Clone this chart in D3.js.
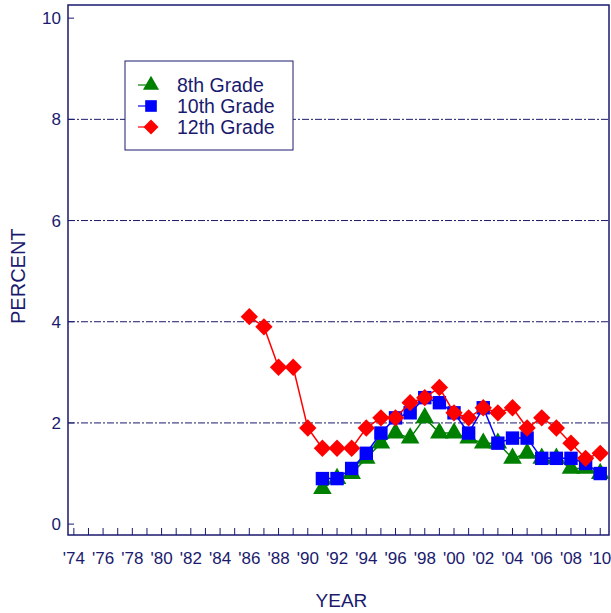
<!DOCTYPE html>
<html>
<head>
<meta charset="utf-8">
<script src="https://cdn.jsdelivr.net/npm/d3@7"></script>
<style>
  body { margin: 0; background: #fff; }
  text { font-family: "Liberation Sans", Arial, sans-serif; fill: #1a1a6e; }
</style>
</head>
<body>
<div id="chart"></div>
<script>
const width = 611;
const height = 613;

// data
const years8 = [1991,1992,1993,1994,1995,1996,1997,1998,1999,2000,2001,2002,2003,2004,2005,2006,2007,2008,2009,2010];
const grade8 = [0.7,0.9,1.0,1.3,1.6,1.8,1.7,2.1,1.8,1.8,1.7,1.6,1.6,1.3,1.4,1.3,1.3,1.1,1.1,1.0];
const years10 = years8;
const grade10 = [0.9,0.9,1.1,1.4,1.8,2.1,2.2,2.5,2.4,2.2,1.8,2.3,1.6,1.7,1.7,1.3,1.3,1.3,1.2,1.0];
const years12 = [1986,1987,1988,1989,1990,1991,1992,1993,1994,1995,1996,1997,1998,1999,2000,2001,2002,2003,2004,2005,2006,2007,2008,2009,2010];
const grade12 = [4.1,3.9,3.1,3.1,1.9,1.5,1.5,1.5,1.9,2.1,2.1,2.4,2.5,2.7,2.2,2.1,2.3,2.2,2.3,1.9,2.1,1.9,1.6,1.3,1.4];
const yTicks = [0, 2, 4, 6, 8, 10];
const gridTicks = [2, 4, 6, 8];
const xLabelYears = d3.range(1974, 2011, 2);

const navy = "#1a1a6e";

const svg = d3.select("#chart")
  .append("svg")
  .attr("width", width)
  .attr("height", height);

const plotLeft = 68, plotRight = 609, plotTop = 5, plotBottom = 535;

const x = d3.scaleLinear().domain([1973.6, 2010.6]).range([plotLeft, plotRight]);
const y = d3.scaleLinear().domain([-0.215, 10.26]).range([plotBottom, plotTop]);

// gridlines
svg.selectAll(".grid")
  .data(gridTicks)
  .enter()
  .append("line")
  .attr("x1", plotLeft).attr("x2", plotRight)
  .attr("y1", d => y(d)).attr("y2", d => y(d))
  .attr("stroke", navy)
  .attr("stroke-width", 1)
  .attr("stroke-dasharray", "7,2,2,2");

// frame
svg.append("rect")
  .attr("x", plotLeft).attr("y", plotTop)
  .attr("width", plotRight - plotLeft).attr("height", plotBottom - plotTop)
  .attr("fill", "none")
  .attr("stroke", navy)
  .attr("stroke-width", 1.5);

// y ticks (inside)
svg.selectAll(".ytick")
  .data(yTicks)
  .enter()
  .append("line")
  .attr("x1", plotLeft).attr("x2", plotLeft + 6)
  .attr("y1", d => y(d)).attr("y2", d => y(d))
  .attr("stroke", navy);

svg.selectAll(".ylab")
  .data(yTicks)
  .enter()
  .append("text")
  .attr("x", plotLeft - 7)
  .attr("y", d => y(d) + 6)
  .attr("text-anchor", "end")
  .style("font-size", "17px")
  .text(d => d);

// x ticks (every year, inside)
svg.selectAll(".xtick")
  .data(d3.range(1974, 2011))
  .enter()
  .append("line")
  .attr("x1", d => x(d)).attr("x2", d => x(d))
  .attr("y1", plotBottom).attr("y2", plotBottom - 7)
  .attr("stroke", navy);

svg.selectAll(".xlab")
  .data(xLabelYears)
  .enter()
  .append("text")
  .attr("x", d => x(d))
  .attr("y", 564)
  .attr("text-anchor", "middle")
  .style("font-size", "17px")
  .text(d => "'" + String(d % 100).padStart(2, "0"));

// axis titles
svg.append("text")
  .attr("x", x(1992.3))
  .attr("y", 607)
  .attr("text-anchor", "middle")
  .style("font-size", "19px")
  .text("YEAR");

svg.append("text")
  .attr("transform", `translate(25, ${y(4.9)}) rotate(-90)`)
  .attr("text-anchor", "middle")
  .style("font-size", "20px")
  .text("PERCENT");

// series
const series = [
  { name: "8th Grade", years: years8, values: grade8, color: "#008000", symbol: d3.symbolTriangle, size: 150, rot: 0 },
  { name: "10th Grade", years: years10, values: grade10, color: "#0000ff", symbol: d3.symbolSquare, size: 180, rot: 0 },
  { name: "12th Grade", years: years12, values: grade12, color: "#ff0000", symbol: d3.symbolSquare, size: 150, rot: 45 }
];

const line = d3.line()
  .x(d => x(d[0]))
  .y(d => y(d[1]));

series.forEach(s => {
  const pts = s.years.map((yr, i) => [yr, s.values[i]]);
  svg.append("path")
    .datum(pts)
    .attr("d", line)
    .attr("fill", "none")
    .attr("stroke", s.color)
    .attr("stroke-width", 1.5);

  svg.selectAll(null)
    .data(pts)
    .enter()
    .append("path")
    .attr("transform", d => `translate(${x(d[0])},${y(d[1])}) rotate(${s.rot})`)
    .attr("d", d3.symbol().type(s.symbol).size(s.size))
    .attr("fill", s.color);
});

// legend
const legend = svg.append("g");
legend.append("rect")
  .attr("x", 125).attr("y", 61)
  .attr("width", 168).attr("height", 89)
  .attr("fill", "#fff")
  .attr("stroke", navy)
  .attr("stroke-width", 1);

const legendItem = legend.selectAll(".legend-item")
  .data(series)
  .enter()
  .append("g")
  .attr("transform", (d, i) => `translate(0, ${85 + i * 21})`);

legendItem.append("line")
  .attr("x1", 138).attr("x2", 151)
  .attr("y1", 0).attr("y2", 0)
  .attr("stroke", d => d.color)
  .attr("stroke-width", 1.2);

legendItem.append("path")
  .attr("transform", d => `translate(151,0) rotate(${d.rot})`)
  .attr("d", d => d3.symbol().type(d.symbol).size(d.size * 0.75)())
  .attr("fill", d => d.color);

legendItem.append("text")
  .attr("x", 177)
  .attr("y", 7)
  .style("font-size", "19.5px")
  .text(d => d.name);
</script>
</body>
</html>
